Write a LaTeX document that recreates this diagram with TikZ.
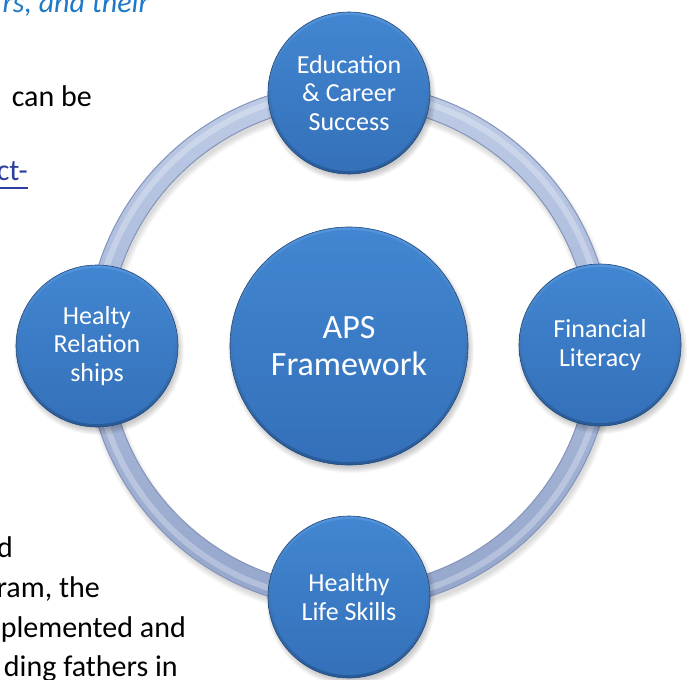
\documentclass[tikz,border=0pt]{standalone}
\usepackage{fontspec}
\setmainfont{Carlito}
\definecolor{ringTop}{HTML}{BDCBE6}
\definecolor{ringBot}{HTML}{95A6CC}
\definecolor{ringEdge}{HTML}{8494BA}
\definecolor{discTop}{HTML}{4286D1}
\definecolor{discBot}{HTML}{3470B9}
\definecolor{rimTop}{HTML}{5394DC}
\definecolor{rimBot}{HTML}{285A98}
\definecolor{linkblue}{HTML}{2B3F9C}
\definecolor{headblue}{HTML}{1F78C8}
\tikzset{
  bodytext/.style={inner sep=0pt, text=black, font=\fontsize{30}{39.5}\selectfont},
  disc/.style={circle, inner sep=0pt, minimum size=#1, text=white, align=center,
    top color=rimTop, bottom color=rimBot, draw=rimBot!80!black, line width=0.6pt,
    path picture={\shade[top color=discTop, bottom color=discBot]
      (path picture bounding box.center) circle (#1/2-3);}},
  smalllabel/.style={font=\fontsize{26}{28.5}\selectfont},
  biglabel/.style={font=\fontsize{34}{37}\selectfont},
}
\begin{document}
\begin{tikzpicture}[x=1pt, y=-1pt]
\useasboundingbox (0,0) rectangle (692,679);
\clip (0,0) rectangle (692,679);
\fill[white] (0,0) rectangle (692,679);

% running text of the page behind the graphic
\node[bodytext, anchor=base east, text=headblue, font=\fontsize{30}{39.5}\selectfont\itshape] (head) at (149,13) {rs, and their};
\node[bodytext, anchor=base east] (canbe) at (92,107) {can be};
\node[bodytext, anchor=base east, text=linkblue] (link) at (28,180) {ct-};
\draw[linkblue, line width=2pt] ([yshift=-7.5pt]link.base west) -- ([yshift=-7.5pt]link.base east);
\node[bodytext, anchor=base east] (l1) at (13,557) {d};
\node[bodytext, anchor=base east] (l2) at (100,597) {ram, the};
\node[bodytext, anchor=base east] (l3) at (186,637) {plemented and};
\node[bodytext, anchor=base east] (l4) at (178,676) {ding fathers in};

% centres of the discs
\coordinate (hub) at (349,346);
\coordinate (pTop) at (349,93);
\coordinate (pLeft) at (97,346);
\coordinate (pRight) at (600,345);
\coordinate (pBot) at (349,597);

% ring: soft shadow, shaded tube, edges and highlight
\foreach \k in {0,...,5}
  \fill[black, opacity=0.025, even odd rule]
    ([shift={(2,5)}]hub) circle (264+\k-2) ([shift={(2,5)}]hub) circle (240-\k+2);
\shade[top color=ringTop, bottom color=ringBot, even odd rule]
  (hub) circle (263) (hub) circle (241);
\draw[white, opacity=0.28, line width=6pt] (hub) circle (255);
\draw[ringEdge, line width=1pt] (hub) circle (263) (hub) circle (241);

% soft shadows under the discs
\foreach \p/\r in {pTop/81, pLeft/81, pRight/81, pBot/81, hub/119}
  \foreach \k in {0,...,6}
    \fill[black, opacity=0.03] ([shift={(2,4)}]\p) circle (\r+\k-2);

% discs
\node[disc=238, biglabel] (aps) at (hub) {APS\\Framework};
\node[disc=162, smalllabel] (edu) at (pTop) {Education\\\& Career\\Success};
\node[disc=162, smalllabel] (rel) at (pLeft) {Healty\\Relation\\ships};
\node[disc=162, smalllabel] (fin) at (pRight) {Financial\\Literacy};
\node[disc=162, smalllabel] (life) at (pBot) {Healthy\\Life Skills};
\end{tikzpicture}
\end{document}
